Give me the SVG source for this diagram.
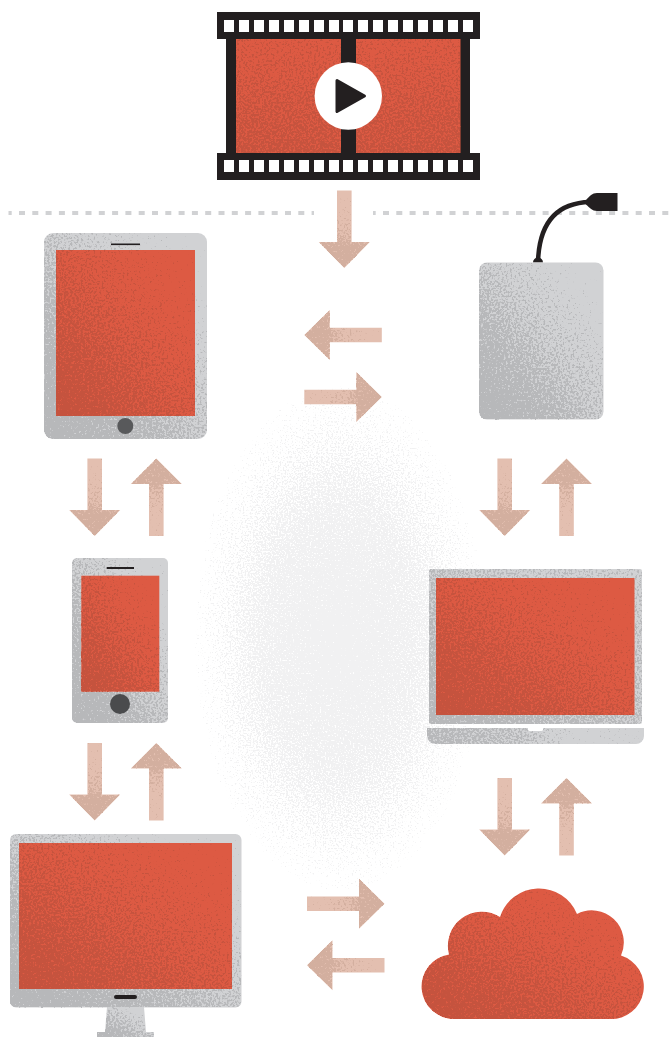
<svg xmlns="http://www.w3.org/2000/svg" xmlns:xlink="http://www.w3.org/1999/xlink" width="671" height="1037" viewBox="0 0 671 1037">
<style>
.red{fill:#DD5A43}
.grey{fill:#D1D2D4}
.ink{fill:#231F20}
.hole{fill:#fff}
.arrow{fill:#E3BFB0}
.gr{filter:url(#grainRed)}
.gg{filter:url(#grainGrey)}
.diag{fill:url(#diag)}
.diagg{fill:url(#diagg)}
.up{fill:url(#vert)}
</style>
<defs>
<linearGradient id="diag" x1="0" y1="1" x2="1" y2="0">
<stop offset="0" stop-opacity=".78"/><stop offset=".3" stop-opacity=".62"/><stop offset=".55" stop-opacity=".48"/><stop offset=".78" stop-opacity=".34"/><stop offset="1" stop-opacity=".22"/>
</linearGradient>
<linearGradient id="diagg" x1="0" y1="1" x2="1" y2="0">
<stop offset="0" stop-opacity=".82"/><stop offset=".3" stop-opacity=".68"/><stop offset=".5" stop-opacity=".52"/><stop offset=".68" stop-opacity=".41"/><stop offset=".8" stop-opacity=".3"/><stop offset="1" stop-opacity=".2"/>
</linearGradient>
<linearGradient id="vert" x1="0" y1="1" x2="0" y2="0">
<stop offset="0" stop-opacity=".62"/><stop offset=".3" stop-opacity=".58"/><stop offset="1" stop-opacity=".44"/>
</linearGradient>
<linearGradient id="lap" x1="0" y1="1" x2="1" y2="0">
<stop offset="0" stop-opacity=".74"/><stop offset=".5" stop-opacity=".55"/><stop offset="1" stop-opacity=".46"/>
</linearGradient>
<linearGradient id="lapbase" x1="0" y1="0" x2="1" y2="0">
<stop offset="0" stop-opacity=".66"/><stop offset=".45" stop-opacity=".54"/><stop offset=".7" stop-opacity=".3"/>
</linearGradient>
<linearGradient id="gD" x1="0" y1="0" x2="0" y2="1">
<stop offset=".2" stop-opacity=".3"/><stop offset=".6" stop-opacity=".54"/><stop offset=".72" stop-opacity=".74"/><stop offset="1" stop-opacity=".76"/>
</linearGradient>
<linearGradient id="gU" x1="0" y1="1" x2="0" y2="0">
<stop offset=".2" stop-opacity=".3"/><stop offset=".6" stop-opacity=".54"/><stop offset=".72" stop-opacity=".74"/><stop offset="1" stop-opacity=".76"/>
</linearGradient>
<linearGradient id="gR" x1="0" y1="0" x2="1" y2="0">
<stop offset=".2" stop-opacity=".3"/><stop offset=".6" stop-opacity=".54"/><stop offset=".72" stop-opacity=".74"/><stop offset="1" stop-opacity=".76"/>
</linearGradient>
<linearGradient id="gL" x1="1" y1="0" x2="0" y2="0">
<stop offset=".2" stop-opacity=".3"/><stop offset=".6" stop-opacity=".54"/><stop offset=".72" stop-opacity=".74"/><stop offset="1" stop-opacity=".76"/>
</linearGradient>
<radialGradient id="blob" cx=".5" cy=".5" r=".5">
<stop offset="0" stop-opacity=".85"/><stop offset=".5" stop-opacity=".68"/><stop offset=".78" stop-opacity=".48"/><stop offset=".92" stop-opacity=".38"/><stop offset="1" stop-opacity=".31"/>
</radialGradient>
<filter id="grainRed" x="0" y="0" width="1" height="1" color-interpolation-filters="sRGB">
<feTurbulence type="fractalNoise" baseFrequency=".48" numOctaves="2" seed="4" result="n"/>
<feColorMatrix in="n" type="matrix" values="0 0 0 0 0 0 0 0 0 0 0 0 0 0 0 0 0 0 1 0" result="na"/>
<feComposite in="SourceAlpha" in2="na" operator="arithmetic" k1="0" k2="1" k3="1" k4="-1"/>
<feComponentTransfer result="m"><feFuncA type="linear" slope="9" intercept="0"/></feComponentTransfer>
<feFlood flood-color="#C5533E"/><feComposite in2="m" operator="in"/>
</filter>
<filter id="grainGrey" x="0" y="0" width="1" height="1" color-interpolation-filters="sRGB">
<feTurbulence type="fractalNoise" baseFrequency=".48" numOctaves="2" seed="9" result="n"/>
<feColorMatrix in="n" type="matrix" values="0 0 0 0 0 0 0 0 0 0 0 0 0 0 0 0 0 0 1 0" result="na"/>
<feComposite in="SourceAlpha" in2="na" operator="arithmetic" k1="0" k2="1" k3="1" k4="-1"/>
<feComponentTransfer result="m"><feFuncA type="linear" slope="9" intercept="0"/></feComponentTransfer>
<feFlood flood-color="#B7B8BA"/><feComposite in2="m" operator="in"/>
</filter>
<filter id="grainArrow" x="0" y="0" width="1" height="1" color-interpolation-filters="sRGB">
<feTurbulence type="fractalNoise" baseFrequency=".48" numOctaves="2" seed="15" result="n"/>
<feColorMatrix in="n" type="matrix" values="0 0 0 0 0 0 0 0 0 0 0 0 0 0 0 0 0 0 1 0" result="na"/>
<feComposite in="SourceAlpha" in2="na" operator="arithmetic" k1="0" k2="1" k3="1" k4="-1"/>
<feComponentTransfer result="m"><feFuncA type="linear" slope="9" intercept="0"/></feComponentTransfer>
<feFlood flood-color="#D3AF9F"/><feComposite in2="m" operator="in"/>
</filter>
<filter id="grainBlob" x="0" y="0" width="1" height="1" color-interpolation-filters="sRGB">
<feTurbulence type="fractalNoise" baseFrequency=".6" numOctaves="2" seed="21" result="n"/>
<feColorMatrix in="n" type="matrix" values="0 0 0 0 0 0 0 0 0 0 0 0 0 0 0 0 0 0 1 0" result="na"/>
<feComposite in="SourceAlpha" in2="na" operator="arithmetic" k1="0" k2="1" k3="1" k4="-1"/>
<feComponentTransfer result="m"><feFuncA type="linear" slope="9" intercept="0"/></feComponentTransfer>
<feFlood flood-color="#F1F1F2"/><feComposite in2="m" operator="in"/>
</filter>
<polygon id="dn" points="-7.3,0 7.3,0 7.3,51.5 25.5,51.5 0,77.5 -25.5,51.5 -7.3,51.5"/>
<polygon id="upa" points="-7.3,77.5 7.3,77.5 7.3,25.5 25.5,25.5 0,0 -25.5,25.5 -7.3,25.5"/>
<polygon id="ri" points="0,-7.2 52,-7.2 52,-25 77.5,0 52,25 52,7.2 0,7.2"/>
<polygon id="le" points="77.5,-7.2 25.5,-7.2 25.5,-25 0,0 25.5,25 25.5,7.2 77.5,7.2"/>
<g id="arrow-down"><use href="#dn" class="arrow"/><use href="#dn" fill="url(#gD)" filter="url(#grainArrow)"/></g>
<g id="arrow-up"><use href="#upa" class="arrow"/><use href="#upa" fill="url(#gU)" filter="url(#grainArrow)"/></g>
<g id="arrow-right"><use href="#ri" class="arrow"/><use href="#ri" fill="url(#gR)" filter="url(#grainArrow)"/></g>
<g id="arrow-left"><use href="#le" class="arrow"/><use href="#le" fill="url(#gL)" filter="url(#grainArrow)"/></g>
</defs>

<rect width="671" height="1037" fill="#fff"/>
<ellipse id="haze" cx="340" cy="638" rx="146" ry="252" fill="url(#blob)" filter="url(#grainBlob)"/>
<g id="divider" fill="none" stroke="#D1D2D4" stroke-width="4" stroke-dasharray="6 7.3">
<path d="M8.500 213H314" stroke-dashoffset="2.800"/>
<path d="M373 213H671" stroke-dashoffset="3.300"/>
</g>

<g id="film">
<rect class="ink" x="217" y="12" width="263" height="27"/>
<rect class="ink" x="217" y="153" width="263" height="27"/>
<rect class="ink" x="226" y="39" width="244" height="114"/>
<rect class="red" x="236" y="39" width="105" height="114"/>
<rect class="red" x="356" y="39" width="104.500" height="114"/>
<rect class="up gr" x="236" y="39" width="105" height="114"/>
<rect class="up gr" x="356" y="39" width="104.500" height="114"/>
<path class="hole" d="M224 20h10v12h-10zM239 20h10v12h-10zM254 20h10v12h-10zM269 20h10v12h-10zM284 20h10v12h-10zM299 20h10v12h-10zM314 20h10v12h-10zM329 20h10v12h-10zM343 20h10v12h-10zM358 20h10v12h-10zM373 20h10v12h-10zM388 20h10v12h-10zM403 20h10v12h-10zM418 20h10v12h-10zM433 20h10v12h-10zM448 20h10v12h-10zM463 20h10v12h-10z"/>
<path class="hole" d="M224 160h10v12h-10zM239 160h10v12h-10zM254 160h10v12h-10zM269 160h10v12h-10zM284 160h10v12h-10zM299 160h10v12h-10zM314 160h10v12h-10zM329 160h10v12h-10zM343 160h10v12h-10zM358 160h10v12h-10zM373 160h10v12h-10zM388 160h10v12h-10zM403 160h10v12h-10zM418 160h10v12h-10zM433 160h10v12h-10zM448 160h10v12h-10zM463 160h10v12h-10z"/>
<circle class="hole" cx="348.300" cy="96" r="33.700"/>
<path class="ink" stroke="#231F20" stroke-width="3" stroke-linejoin="round" d="M337 80.500L364.500 96L337 111.500Z"/>
</g>

<g id="tablet">
<rect class="grey" x="44" y="233" width="163" height="206" rx="9"/>
<rect class="diagg gg" x="44" y="233" width="163" height="206" rx="9"/>
<rect class="red" x="56" y="250" width="139" height="166"/>
<rect class="diag gr" x="56" y="250" width="139" height="166"/>
<rect class="ink" x="111" y="243.500" width="29" height="1.600"/>
<circle cx="125.300" cy="426" r="8" fill="#58595B"/>
</g>

<g id="phone">
<rect class="grey" x="72" y="558" width="96" height="165" rx="5"/>
<rect class="diagg gg" x="72" y="558" width="96" height="165" rx="5"/>
<rect class="red" x="81.300" y="575.700" width="78" height="116"/>
<rect class="diag gr" x="81.300" y="575.700" width="78" height="116"/>
<rect class="ink" x="106.700" y="567" width="27.300" height="2"/>
<circle cx="120" cy="704" r="10" fill="#4A4B4D"/>
</g>

<g id="monitor">
<path class="grey" d="M107 1007H144L146 1032H154V1037H97V1032H105Z"/>
<path class="diagg gg" d="M107 1007H144L146 1032H154V1037H97V1032H105Z"/>
<rect class="grey" x="10" y="834" width="231.500" height="173.500" rx="6"/>
<rect class="diagg gg" x="10" y="834" width="231.500" height="173.500" rx="6"/>
<rect class="red" x="19" y="843" width="213" height="146"/>
<rect class="diag gr" x="19" y="843" width="213" height="146"/>
<rect class="ink" x="114" y="995" width="23" height="4" rx="2"/>
</g>

<g id="drive">
<path fill="none" stroke="#231F20" stroke-width="4.500" d="M538 262C539 228 552 203 590 202"/>
<path class="ink" d="M533 262.500a5 5 0 0 1 10 0z"/>
<path class="ink" d="M617.500 193V211H597C592 211 590 208 586 204.500V200C590 196 592 193 597 193Z"/>
<rect class="grey" x="479" y="262.500" width="124.500" height="157" rx="8"/>
<rect class="diagg gg" x="479" y="262.500" width="124.500" height="157" rx="8"/>
</g>

<g id="laptop">
<rect class="grey" x="429" y="569" width="213" height="155" rx="2"/>
<rect fill="url(#lap)" filter="url(#grainGrey)" x="429" y="569" width="213" height="155" rx="2"/>
<rect class="red" x="436" y="578" width="198.500" height="137"/>
<rect class="diag gr" x="436" y="578" width="198.500" height="137"/>
<path class="grey" d="M427 728H644V736A8 8 0 0 1 636 744H435A8 8 0 0 1 427 736Z"/>
<path fill="url(#lapbase)" filter="url(#grainGrey)" d="M427 728H644V736A8 8 0 0 1 636 744H435A8 8 0 0 1 427 736Z"/>
<path class="hole" d="M528 728H543V729.500Q543 731 541 731H530Q528 731 528 729.500Z"/>
</g>

<g id="cloud">
<path class="red" d="M454.500 1019A32.500 32.500 0 0 1 449 954.400A34 34 0 0 1 500 917A41 41 0 0 1 577 914A32 32 0 0 1 621 955.500A32.500 32.500 0 0 1 610 1019Z"/>
<path class="diag gr" d="M454.500 1019A32.500 32.500 0 0 1 449 954.400A34 34 0 0 1 500 917A41 41 0 0 1 577 914A32 32 0 0 1 621 955.500A32.500 32.500 0 0 1 610 1019Z"/>
</g>

<g id="connectors">
<use href="#arrow-down" x="344.300" y="190.500"/>
<use href="#arrow-left" x="304.300" y="335"/>
<use href="#arrow-right" x="304.300" y="397"/>
<use href="#arrow-down" x="94.700" y="458.500"/>
<use href="#arrow-up" x="156.300" y="458.500"/>
<use href="#arrow-down" x="94.700" y="743"/>
<use href="#arrow-up" x="156.300" y="743"/>
<use href="#arrow-down" x="504.700" y="458.500"/>
<use href="#arrow-up" x="566.500" y="458.500"/>
<use href="#arrow-down" x="504.700" y="778"/>
<use href="#arrow-up" x="566.500" y="778"/>
<use href="#arrow-right" x="307" y="903.800"/>
<use href="#arrow-left" x="307" y="965.200"/>
</g>
</svg>
